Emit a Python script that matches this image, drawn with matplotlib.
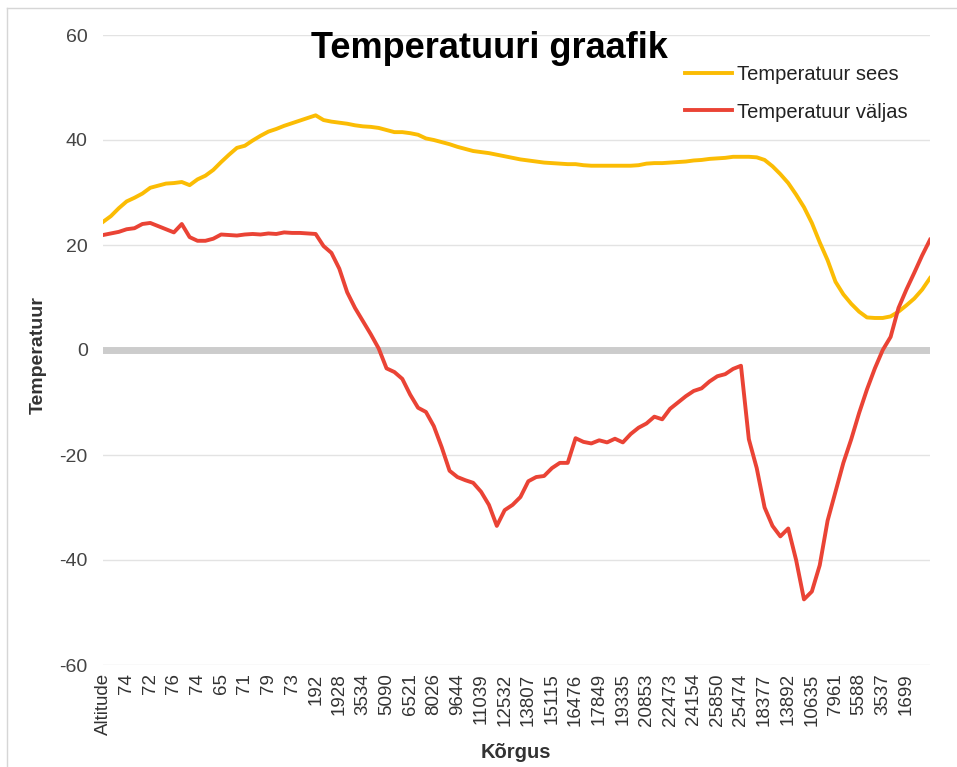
import matplotlib
matplotlib.use("Agg")
import matplotlib.pyplot as plt
from matplotlib.lines import Line2D

plt.rcParams['font.family'] = ['Liberation Sans', 'DejaVu Sans']

tick_labels = ["Altitude", "74", "72", "76", "74", "65", "71", "79", "73", "192",
               "1928", "3534", "5090", "6521", "8026", "9644", "11039", "12532",
               "13807", "15115", "16476", "17849", "19335", "20853", "22473",
               "24154", "25850", "25474", "18377", "13892", "10635", "7961",
               "5588", "3537", "1699"]
label_step = 3

temp_sees = [24.4, 25.5, 27, 28.3, 29, 29.8, 30.9, 31.3, 31.7, 31.8,
             32, 31.4, 32.5, 33.2, 34.3, 35.8, 37.2, 38.5, 38.9, 39.9,
             40.8, 41.6, 42.1, 42.7, 43.2, 43.7, 44.2, 44.7, 43.8, 43.5,
             43.3, 43.1, 42.8, 42.6, 42.5, 42.3, 41.9, 41.5, 41.5, 41.3,
             41, 40.3, 40, 39.6, 39.2, 38.7, 38.3, 37.9, 37.7, 37.5,
             37.2, 36.9, 36.6, 36.3, 36.1, 35.9, 35.7, 35.6, 35.5, 35.4,
             35.4, 35.2, 35.1, 35.1, 35.1, 35.1, 35.1, 35.1, 35.2, 35.5,
             35.6, 35.6, 35.7, 35.8, 35.9, 36.1, 36.2, 36.4, 36.5, 36.6,
             36.8, 36.8, 36.8, 36.7, 36.2, 35, 33.5, 31.8, 29.6, 27.2,
             24.2, 20.5, 17.1, 13, 10.6, 8.8, 7.3, 6.2, 6.1, 6.1,
             6.4, 7.3, 8.5, 9.8, 11.5, 13.7]

temp_valjas = [21.9, 22.2, 22.5, 23, 23.2, 24, 24.2, 23.6, 23, 22.4,
               24, 21.5, 20.8, 20.8, 21.2, 22, 21.9, 21.8, 22, 22.1,
               22, 22.2, 22.1, 22.4, 22.3, 22.3, 22.2, 22.1, 19.8, 18.5,
               15.5, 11, 8, 5.5, 3, 0.3, -3.5, -4.2, -5.5, -8.5,
               -11, -11.8, -14.5, -18.5, -23, -24.2, -24.8, -25.3, -27, -29.5,
               -33.5, -30.5, -29.5, -28, -25, -24.2, -24, -22.5, -21.5, -21.5,
               -16.8, -17.5, -17.8, -17.2, -17.6, -16.9, -17.6, -16, -14.8, -14,
               -12.7, -13.2, -11.2, -10, -8.8, -7.8, -7.3, -6, -5, -4.6,
               -3.6, -3.0, -17, -22.5, -30, -33.5, -35.5, -34, -40, -47.5,
               -46, -41, -32.5, -27, -21.5, -17, -12, -7.5, -3.5, 0,
               2.5, 8, 11.5, 14.7, 18, 21]

yellow = '#fbbc04'
red = '#ea4335'

fig = plt.figure(figsize=(9.57, 7.67), dpi=100)
ax = fig.add_axes([103/957, 1 - 665/767, (930 - 103)/957, (665 - 35)/767])

x = list(range(len(temp_sees)))
ax.plot(x, temp_sees, color=yellow, lw=2.8, solid_joinstyle='round', zorder=3,
        label='Temperatuur sees')
ax.plot(x, temp_valjas, color=red, lw=2.8, solid_joinstyle='round', zorder=3,
        label='Temperatuur väljas')

ax.set_xlim(0, len(x) - 1)
ax.set_ylim(-60, 60)
yt = list(range(-60, 61, 20))
ax.set_yticks(yt)
ax.set_yticklabels([str(v) for v in yt], fontsize=14, color='#444444')
for v in yt:
    if v == 0:
        ax.axhline(v, color='#cccccc', lw=5, zorder=1)
    else:
        ax.axhline(v, color='#e3e3e3', lw=1, zorder=1)

ax.set_xticks([i * label_step for i in range(len(tick_labels))])
ax.set_xticklabels(tick_labels, rotation=90, fontsize=13.5, color='#333333')
ax.tick_params(axis='both', length=0)
ax.tick_params(axis='x', pad=6)
ax.tick_params(axis='y', pad=11)
for s in ax.spines.values():
    s.set_visible(False)

fig.text(516/957, 1 - 752/767, 'Kõrgus', fontsize=14.5, fontweight='bold',
         color='#333333', ha='center', va='center')
fig.text(38/957, 1 - 355/767, 'Temperatuur', fontsize=14, fontweight='bold',
         color='#333333', ha='center', va='center', rotation=90)

fig.text(489/957, 1 - 48/767, 'Temperatuuri graafik', fontsize=26, fontweight='bold',
         ha='center', va='center', color='black')

leg = ax.legend(loc='upper left', bbox_to_anchor=(685/957, 1 - 65/767),
                bbox_transform=fig.transFigure, frameon=False, fontsize=14.5,
                handlelength=2.35, handletextpad=0.25, labelspacing=0.92,
                borderpad=0, borderaxespad=0)
for t in leg.get_texts():
    t.set_color('#222222')

# chart border (left and top)
fig.add_artist(Line2D([7/957, 7/957], [0, 1 - 8/767], transform=fig.transFigure,
                      color='#d6d6d6', lw=1))
fig.add_artist(Line2D([7/957, 1], [1 - 8/767, 1 - 8/767], transform=fig.transFigure,
                      color='#d6d6d6', lw=1))

fig.savefig('out.png', dpi=100)
